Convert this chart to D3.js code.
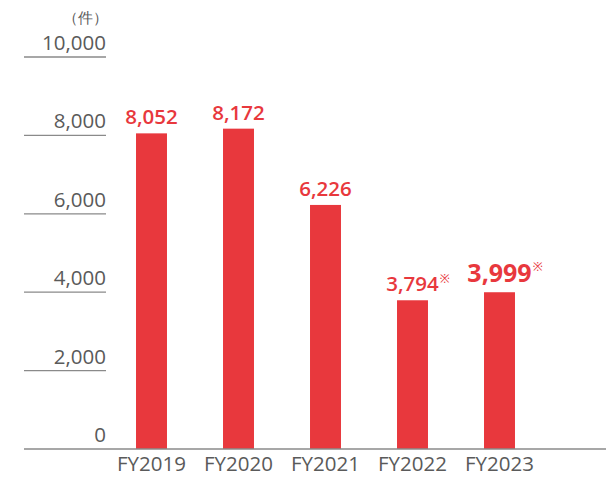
<!DOCTYPE html>
<html>
<head>
<meta charset="utf-8">
<script src="https://cdn.jsdelivr.net/npm/d3@7"></script>
<style>
  body { margin: 0; background: #fff; }
  text { font-family: "Open Sans", "Noto Sans", sans-serif; }
</style>
</head>
<body>
<svg id="chart"></svg>
<script>
// data
var years = ["FY2019", "FY2020", "FY2021", "FY2022", "FY2023"];
var counts = [8052, 8172, 6226, 3794, 3999];
var hasNote = [false, false, false, true, true];
var yTicks = [0, 2000, 4000, 6000, 8000, 10000];
var unitLabel = "（件）";

var width = 616, height = 477;
var red = "#e8383d", grey = "#5a5a5a";

var svg = d3.select("#chart")
            .attr("width", width)
            .attr("height", height);

var x = d3.scaleBand()
          .domain(years)
          .range([108, 543])
          .paddingInner(0.644)
          .paddingOuter(0.322);

var y = d3.scaleLinear()
          .domain([0, 10000])
          .range([449, 57]);

// short gridline stubs + tick labels on the left
svg.selectAll(".stub")
  .data(yTicks.filter(d => d > 0))
  .enter()
  .append("line")
    .attr("x1", 24)
    .attr("x2", 106)
    .attr("y1", d => y(d))
    .attr("y2", d => y(d))
    .attr("stroke", "#8a8a8a")
    .attr("stroke-width", 1.3);

svg.selectAll(".ytick")
  .data(yTicks)
  .enter()
  .append("text")
    .attr("x", 106)
    .attr("y", d => y(d) - 7)
    .attr("text-anchor", "end")
    .attr("font-size", "20.5px")
    .attr("fill", grey)
    .text(d => d3.format(",")(d));

svg.append("text")
    .attr("x", 108)
    .attr("y", 23)
    .attr("text-anchor", "end")
    .attr("font-size", "15px")
    .attr("fill", grey)
    .text(unitLabel);

// bars
svg.selectAll(".bar")
  .data(counts)
  .enter()
  .append("rect")
    .attr("x", (d, i) => x(years[i]))
    .attr("y", d => y(d))
    .attr("width", x.bandwidth())
    .attr("height", d => y(0) - y(d))
    .attr("fill", red);

// baseline
svg.append("line")
    .attr("x1", 24)
    .attr("x2", 606)
    .attr("y1", y(0))
    .attr("y2", y(0))
    .attr("stroke", "#8a8a8a")
    .attr("stroke-width", 1.5);

// x labels
svg.selectAll(".xlab")
  .data(years)
  .enter()
  .append("text")
    .attr("x", d => x(d) + x.bandwidth() / 2)
    .attr("y", 471)
    .attr("text-anchor", "middle")
    .attr("font-size", "20.5px")
    .attr("fill", grey)
    .text(d => d);

// value labels, last year is emphasised
counts.forEach(function(v, i) {
  var last = i === counts.length - 1;
  var cx = x(years[i]) + x.bandwidth() / 2;
  var t = svg.append("text")
      .attr("x", cx)
      .attr("y", y(v) - (last ? 10 : 9))
      .attr("text-anchor", "middle")
      .attr("font-size", last ? "25px" : "20.5px")
      .attr("font-weight", last ? 700 : 600)
      .attr("fill", red)
      .text(d3.format(",")(v));
  if (hasNote[i]) {
    var w = t.node().getComputedTextLength();
    svg.append("text")
        .attr("x", cx + w / 2 + 1)
        .attr("y", y(v) - (last ? 21 : 17))
        .attr("font-size", "12px")
        .attr("fill", red)
        .text("※");
  }
});
</script>
</body>
</html>
